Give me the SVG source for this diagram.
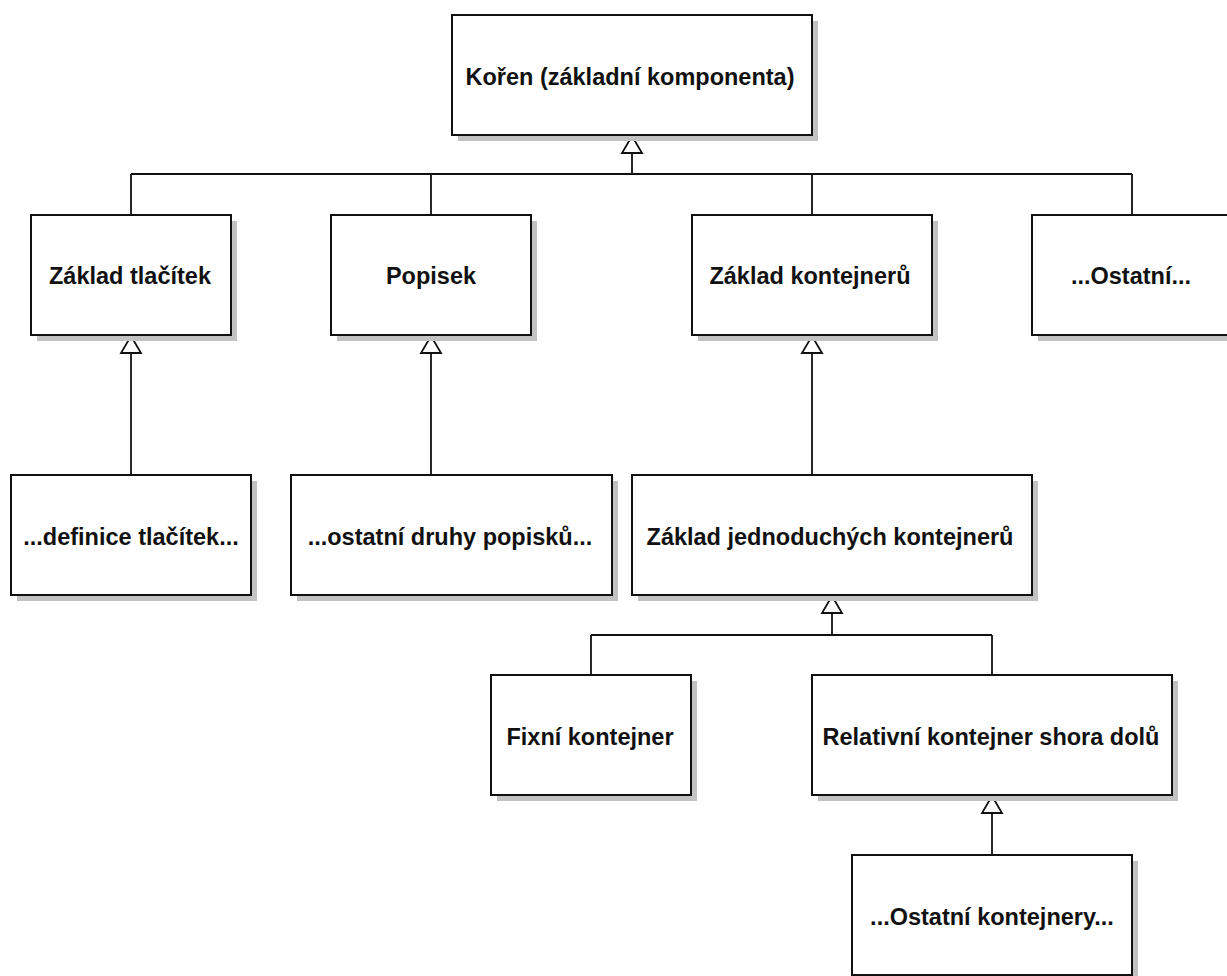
<svg xmlns="http://www.w3.org/2000/svg" width="1227" height="976" viewBox="0 0 1227 976">
  <style>
    .shadow { fill: #c2c2c2; stroke: none; }
    .box { fill: #ffffff; stroke: #111111; stroke-width: 2; }
    .label { font-family: "Liberation Sans", Arial, sans-serif; font-weight: bold; font-size: 23.5px; fill: #111111; text-anchor: middle; }
    .conn { fill: none; stroke: #111111; stroke-width: 1.8; }
    .head { fill: #ffffff; stroke: #111111; stroke-width: 1.8; stroke-linejoin: miter; }
  </style>
  <rect x="0" y="0" width="1227" height="976" fill="#ffffff"/>

  <g id="connectors">
    <!-- root generalisation -->
    <path class="conn" d="M632 153 V174 M131 174 H1132 M131 174 V215 M431 174 V215 M812 174 V215 M1132 174 V215"/>
    <path class="head" d="M632 136 L642 153 L622 153 Z"/>
    <!-- Základ tlačítek -> definice -->
    <path class="conn" d="M131 353 V475"/>
    <path class="head" d="M131 336 L141 353 L121 353 Z"/>
    <!-- Popisek -> ostatní druhy -->
    <path class="conn" d="M431 353 V475"/>
    <path class="head" d="M431 336 L441 353 L421 353 Z"/>
    <!-- Základ kontejnerů -> Základ jednoduchých -->
    <path class="conn" d="M812 353 V475"/>
    <path class="head" d="M812 336 L822 353 L802 353 Z"/>
    <!-- Základ jednoduchých -> Fixní, Relativní -->
    <path class="conn" d="M832 613 V635 M591 635 H992 M591 635 V675 M992 635 V675"/>
    <path class="head" d="M832 596 L842 613 L822 613 Z"/>
    <!-- Relativní -> Ostatní kontejnery -->
    <path class="conn" d="M992 813 V855"/>
    <path class="head" d="M992 796 L1002 813 L982 813 Z"/>
  </g>

  <g id="node-root">
    <rect class="shadow" x="458" y="21" width="360" height="120"/>
    <rect class="box" x="452" y="15" width="360" height="120"/>
    <text class="label" x="630" y="85">Kořen (základní komponenta)</text>
  </g>

  <g id="node-zaklad-tlacitek">
    <rect class="shadow" x="37" y="221" width="200" height="120"/>
    <rect class="box" x="31" y="215" width="200" height="120"/>
    <text class="label" x="130" y="284">Základ tlačítek</text>
  </g>

  <g id="node-popisek">
    <rect class="shadow" x="337" y="221" width="200" height="120"/>
    <rect class="box" x="331" y="215" width="200" height="120"/>
    <text class="label" x="431" y="284">Popisek</text>
  </g>

  <g id="node-zaklad-kontejneru">
    <rect class="shadow" x="698" y="221" width="240" height="120"/>
    <rect class="box" x="692" y="215" width="240" height="120"/>
    <text class="label" x="810" y="284">Základ kontejnerů</text>
  </g>

  <g id="node-ostatni">
    <rect class="shadow" x="1038" y="221" width="200" height="120"/>
    <rect class="box" x="1032" y="215" width="200" height="120"/>
    <text class="label" x="1131" y="284">...Ostatní...</text>
  </g>

  <g id="node-definice-tlacitek">
    <rect class="shadow" x="17" y="481" width="240" height="120"/>
    <rect class="box" x="11" y="475" width="240" height="120"/>
    <text class="label" x="131" y="545">...definice tlačítek...</text>
  </g>

  <g id="node-ostatni-popisky">
    <rect class="shadow" x="297" y="481" width="321" height="120"/>
    <rect class="box" x="291" y="475" width="321" height="120"/>
    <text class="label" x="450" y="545">...ostatní druhy popisků...</text>
  </g>

  <g id="node-zaklad-jednoduchych">
    <rect class="shadow" x="638" y="481" width="400" height="120"/>
    <rect class="box" x="632" y="475" width="400" height="120"/>
    <text class="label" x="830" y="545">Základ jednoduchých kontejnerů</text>
  </g>

  <g id="node-fixni">
    <rect class="shadow" x="497" y="681" width="200" height="120"/>
    <rect class="box" x="491" y="675" width="200" height="120"/>
    <text class="label" x="590" y="745">Fixní kontejner</text>
  </g>

  <g id="node-relativni">
    <rect class="shadow" x="818" y="681" width="360" height="120"/>
    <rect class="box" x="812" y="675" width="360" height="120"/>
    <text class="label" x="991" y="745">Relativní kontejner shora dolů</text>
  </g>

  <g id="node-ostatni-kontejnery">
    <rect class="shadow" x="858" y="861" width="280" height="120"/>
    <rect class="box" x="852" y="855" width="280" height="120"/>
    <text class="label" x="992" y="925">...Ostatní kontejnery...</text>
  </g>
</svg>
